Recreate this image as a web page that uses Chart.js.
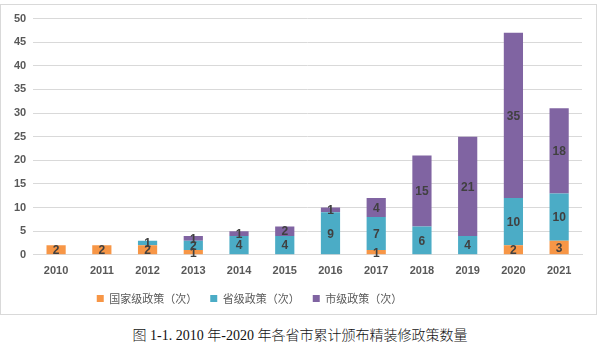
<!DOCTYPE html>
<html>
<head>
<meta charset="utf-8">
<script src="https://cdn.jsdelivr.net/npm/chart.js@4.4.0/dist/chart.umd.min.js"></script>
<style>
  body { margin: 0; background: #fff; width: 611px; height: 354px; position: relative; overflow: hidden; }
  #box { position: absolute; left: 0; top: 4px; width: 597px; height: 311px; border: 1px solid #d9d9d9; box-sizing: border-box; }
  #wrap { position: absolute; left: 0; top: 0; width: 595px; height: 309px; }
  #caption { position: absolute; left: 0; top: 324px; width: 600px; text-align: center;
    font-family: "Liberation Serif", "Noto Sans CJK SC", serif; font-size: 14px; font-weight: 300; color: #111; }
</style>
</head>
<body>
<div id="box"><div id="wrap"><canvas id="myChart"></canvas></div></div>
<div id="caption">图 <b>1-1. 2010</b> 年<b>-2020</b> 年各省市累计颁布精装修政策数量</div>
<script>
const years = ["2010", "2011", "2012", "2013", "2014", "2015", "2016", "2017", "2018", "2019", "2020", "2021"];
const national = [2, 2, 2, 1, 0, 0, 0, 1, 0, 0, 2, 3];
const provincial = [0, 0, 1, 2, 4, 4, 9, 7, 6, 4, 10, 10];
const city = [0, 0, 0, 1, 1, 2, 1, 4, 15, 21, 35, 18];
const yTicks = { min: 0, max: 50, step: 5 };

const numFont = "'Liberation Sans', Arial, sans-serif";

// numbers in the middle of each segment
const segmentLabels = {
  id: "segmentLabels",
  afterDatasetsDraw(chart) {
    const ctx = chart.ctx;
    ctx.save();
    ctx.font = "bold 12px " + numFont;
    ctx.fillStyle = "#404040";
    ctx.textAlign = "center";
    ctx.textBaseline = "middle";
    chart.data.datasets.forEach((ds, i) => {
      const meta = chart.getDatasetMeta(i);
      meta.data.forEach((bar, j) => {
        const v = ds.data[j];
        if (!v) return;
        const mid = (bar.y + bar.base) / 2;
        ctx.fillText(String(v), bar.x, mid + 1);
      });
    });
    ctx.restore();
  },
};

// legend sits a bit left of centre in the original
const shiftLegend = {
  id: "shiftLegend",
  afterLayout(chart) {
    chart.legend.left -= 45;
    chart.legend.right -= 45;
  },
};

const chart = new Chart(document.getElementById("myChart"), {
  type: "bar",
  data: {
    labels: years,
    datasets: [
      { label: "国家级政策（次）", data: national, backgroundColor: "#F79646" },
      { label: "省级政策（次）", data: provincial, backgroundColor: "#4BACC6" },
      { label: "市级政策（次）", data: city, backgroundColor: "#8064A2" },
    ],
  },
  options: {
    responsive: true,
    maintainAspectRatio: false,
    animation: false,
    barPercentage: 0.42,
    categoryPercentage: 1,
    layout: { padding: { left: 6, right: 14, top: 10, bottom: 0 } },
    scales: {
      x: {
        stacked: true,
        grid: { display: false },
        border: { color: "#d9d9d9" },
        ticks: { color: "#595959", font: { family: numFont, size: 11, weight: "bold" }, padding: 2 },
      },
      y: {
        stacked: true,
        min: yTicks.min,
        max: yTicks.max,
        ticks: { stepSize: yTicks.step, color: "#595959", font: { family: numFont, size: 11, weight: "bold" }, padding: 7 },
        grid: { color: "#d9d9d9", drawTicks: false },
        border: { display: false },
      },
    },
    plugins: {
      tooltip: { enabled: false },
      legend: {
        position: "bottom",
        labels: {
          boxWidth: 7,
          boxHeight: 7,
          padding: 13,
          color: "#595959",
          font: { family: "'Noto Sans CJK SC', sans-serif", size: 11 },
        },
      },
    },
  },
  plugins: [segmentLabels, shiftLegend],
});
</script>
</body>
</html>
